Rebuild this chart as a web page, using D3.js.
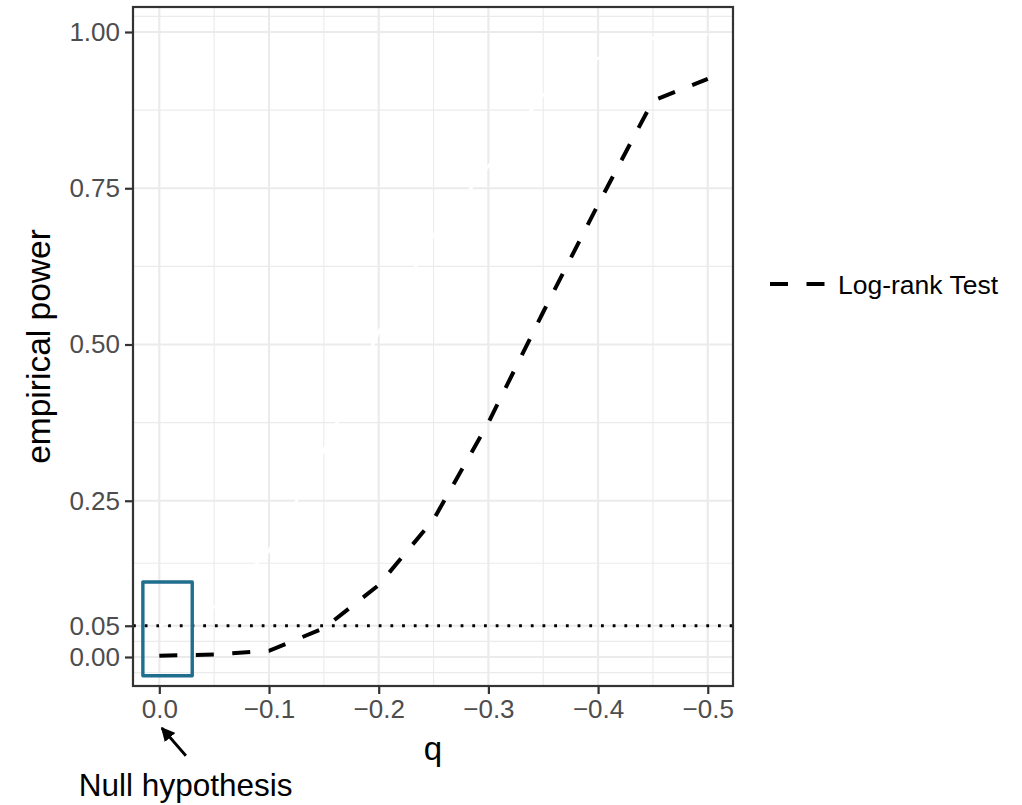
<!DOCTYPE html>
<html>
<head>
<meta charset="utf-8">
<script src="https://cdn.jsdelivr.net/npm/d3@7"></script>
<style>
  body { margin: 0; background: #fff; }
  text { font-family: "Liberation Sans", Arial, sans-serif; }
</style>
</head>
<body>
<svg id="chart" width="1022" height="805"></svg>
<script>
// values
const qValues = [0, -0.05, -0.1, -0.15, -0.2, -0.25, -0.3, -0.35, -0.4, -0.45, -0.5];
const logRankPower = [0.002, 0.004, 0.01, 0.046, 0.115, 0.22, 0.375, 0.552, 0.724, 0.89, 0.925];
const otherPower = [0.05, 0.08, 0.17, 0.33, 0.52, 0.675, 0.785, 0.9, 0.958, 0.99, 0.996];

const xTicks = [0, -0.1, -0.2, -0.3, -0.4, -0.5];
const xMinor = [-0.05, -0.15, -0.25, -0.35, -0.45];
const yTicks = [0, 0.05, 0.25, 0.5, 0.75, 1];
const yMinor = [-0.025, 0.025, 0.15, 0.375, 0.625, 0.875, 1.025];

const alphaLevel = 0.05;
const nullBox = { xmin: -0.03, xmax: 0.015, ymin: -0.03, ymax: 0.12 };
const arrowFrom = [-0.0242, -0.158];
const arrowTo = [-0.0023, -0.1136];
const noteAt = [-0.024, -0.2224];

const legendLabel = 'Log-rank Test';

const svg = d3.select('#chart');

const pLeft = 133, pRight = 733, pTop = 7, pBottom = 686;

const x = d3.scaleLinear().domain([0.024, -0.523]).range([pLeft, pRight]);
const y = d3.scaleLinear().domain([-0.0464, 1.04]).range([pBottom, pTop]);

const pts = qValues.map((q, i) => ({ q: q, a: logRankPower[i], b: otherPower[i] }));

// grid
const grid = svg.append('g');
grid.selectAll('.ymin').data(yMinor).join('line')
  .attr('x1', pLeft).attr('x2', pRight)
  .attr('y1', d => y(d)).attr('y2', d => y(d))
  .attr('stroke', '#ebebeb').attr('stroke-width', 1.1);
grid.selectAll('.xmin').data(xMinor).join('line')
  .attr('y1', pTop).attr('y2', pBottom)
  .attr('x1', d => x(d)).attr('x2', d => x(d))
  .attr('stroke', '#ebebeb').attr('stroke-width', 1.1);
grid.selectAll('.ymaj').data(yTicks).join('line')
  .attr('x1', pLeft).attr('x2', pRight)
  .attr('y1', d => y(d)).attr('y2', d => y(d))
  .attr('stroke', '#ebebeb').attr('stroke-width', 2.2);
grid.selectAll('.xmaj').data(xTicks).join('line')
  .attr('y1', pTop).attr('y2', pBottom)
  .attr('x1', d => x(d)).attr('x2', d => x(d))
  .attr('stroke', '#ebebeb').attr('stroke-width', 2.2);

// reference line at alpha
svg.append('line')
  .attr('x1', pLeft).attr('x2', pRight)
  .attr('y1', y(alphaLevel)).attr('y2', y(alphaLevel))
  .attr('stroke', '#000').attr('stroke-width', 2.8)
  .attr('stroke-dasharray', '2.8 8.9');

const line = d3.line().x(d => x(d.q));

// white series (only shows where it crosses the grid)
svg.append('path')
  .attr('d', line.y(d => y(d.b))(pts))
  .attr('fill', 'none').attr('stroke', '#fff').attr('stroke-width', 3);

svg.append('path')
  .attr('d', line.y(d => y(d.a))(pts))
  .attr('fill', 'none').attr('stroke', '#000').attr('stroke-width', 4)
  .attr('stroke-dasharray', '18 18.5');

// box round the null value
svg.append('rect')
  .attr('x', x(nullBox.xmax)).attr('y', y(nullBox.ymax))
  .attr('width', x(nullBox.xmin) - x(nullBox.xmax))
  .attr('height', y(nullBox.ymin) - y(nullBox.ymax))
  .attr('fill', 'none').attr('stroke', '#1f6e8d').attr('stroke-width', 3.4)
  .attr('stroke-linejoin', 'round');

// panel border
svg.append('rect')
  .attr('x', pLeft).attr('y', pTop)
  .attr('width', pRight - pLeft).attr('height', pBottom - pTop)
  .attr('fill', 'none').attr('stroke', '#333').attr('stroke-width', 2.2);

// axes
const xAxis = d3.axisBottom(x).tickValues(xTicks).tickFormat(d3.format('.1f')).tickSize(7).tickPadding(5);
const yAxis = d3.axisLeft(y).tickValues(yTicks).tickFormat(d3.format('.2f')).tickSize(7).tickPadding(5);

const gx = svg.append('g').attr('transform', `translate(0,${pBottom + 1})`).call(xAxis);
const gy = svg.append('g').attr('transform', `translate(${pLeft - 1},0)`).call(yAxis);
[gx, gy].forEach(g => {
  g.select('.domain').remove();
  g.selectAll('.tick line').attr('stroke', '#333').attr('stroke-width', 2.2);
  g.selectAll('.tick text').attr('fill', '#4d4d4d').style('font-size', '26px')
    .style('font-family', '"Liberation Sans", Arial, sans-serif');
});
gx.selectAll('.tick text').attr('dy', '0.72em');

svg.append('text')
  .attr('x', (pLeft + pRight) / 2).attr('y', 760)
  .attr('text-anchor', 'middle').style('font-size', '33px')
  .text('q');

svg.append('text')
  .attr('transform', `translate(50,${(pTop + pBottom) / 2}) rotate(-90)`)
  .attr('text-anchor', 'middle').style('font-size', '33.5px')
  .text('empirical power');

// annotation
svg.append('defs').append('marker')
  .attr('id', 'head').attr('viewBox', '0 0 10 10')
  .attr('refX', 9).attr('refY', 5)
  .attr('markerWidth', 5).attr('markerHeight', 5)
  .attr('markerUnits', 'strokeWidth').attr('orient', 'auto')
  .append('path').attr('d', 'M0,0L10,5L0,10Z').attr('fill', '#000');

svg.append('line')
  .attr('x1', x(arrowFrom[0])).attr('y1', y(arrowFrom[1]))
  .attr('x2', x(arrowTo[0])).attr('y2', y(arrowTo[1]))
  .attr('stroke', '#000').attr('stroke-width', 2.8)
  .attr('marker-end', 'url(#head)');

svg.append('text')
  .attr('x', x(noteAt[0])).attr('y', y(noteAt[1]))
  .attr('text-anchor', 'middle').style('font-size', '31.5px')
  .text('Null hypothesis');

// legend
const lg = svg.append('g').attr('transform', 'translate(770,284)');
lg.append('line')
  .attr('x1', 0).attr('x2', 56).attr('y1', 0).attr('y2', 0)
  .attr('stroke', '#000').attr('stroke-width', 4)
  .attr('stroke-dasharray', '18 18.5');
lg.append('text')
  .attr('x', 68).attr('y', 9.5)
  .style('font-size', '26.5px')
  .text(legendLabel);
</script>
</body>
</html>
